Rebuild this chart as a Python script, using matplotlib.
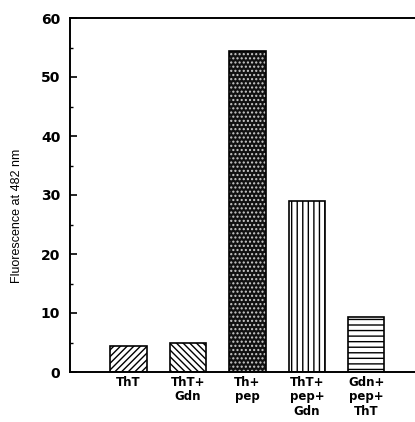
import matplotlib
matplotlib.use("Agg")
import matplotlib.pyplot as plt
import numpy as np

categories = ["ThT", "ThT+\nGdn", "Th+\npep", "ThT+\npep+\nGdn", "Gdn+\npep+\nThT"]
values = [4.4, 5.0, 54.4, 28.9, 9.4]
yticks = [0, 10, 20, 30, 40, 50, 60]

plt.rcParams['font.family'] = ['Liberation Sans', 'DejaVu Sans']
plt.rcParams['hatch.linewidth'] = 1.0

fig = plt.figure(figsize=(4.15, 4.22), dpi=100)
ax = fig.add_axes([70/415, 50/422, 1 - 70/415, 354/422])

x = np.arange(len(categories))
w = 0.61
styles = [
    dict(facecolor='white', hatch='/////', edgecolor='black'),
    dict(facecolor='white', hatch='\\\\\\\\\\', edgecolor='black'),
    dict(facecolor='#111111', hatch='....', edgecolor='#cccccc'),
    dict(facecolor='white', hatch='|||', edgecolor='black'),
    dict(facecolor='white', hatch='---', edgecolor='black'),
]
for xi, v, st in zip(x, values, styles):
    ax.bar(xi, v, width=w, linewidth=0, **st)
    ax.bar(xi, v, width=w, fill=False, edgecolor='black', linewidth=1.2)

ax.set_xlim(-0.985, 4.82)
ax.set_ylim(0, 60)
ax.set_yticks(yticks)
ax.set_yticklabels([str(t) for t in yticks], fontweight='bold', fontsize=10,
                   family='DejaVu Sans')
ax.set_yticks(np.arange(5, 60, 10), minor=True)
ax.tick_params(axis='y', which='major', direction='in', length=5, width=1.2, pad=7)
ax.tick_params(axis='y', which='minor', direction='in', length=2.5, width=1.0)
ax.set_xticks(x)
ax.set_xticklabels(categories, fontweight='bold', fontsize=8.5, linespacing=1.12,
                   family='DejaVu Sans')
ax.tick_params(axis='x', length=0, pad=3)

for s in ['left', 'top', 'bottom']:
    ax.spines[s].set_linewidth(1.4)
ax.spines['right'].set_visible(False)

ax.set_ylabel("Fluorescence at 482 nm", fontsize=9)
ax.yaxis.set_label_coords(-0.135, 0.44)

fig.savefig("out.png", dpi=100)
